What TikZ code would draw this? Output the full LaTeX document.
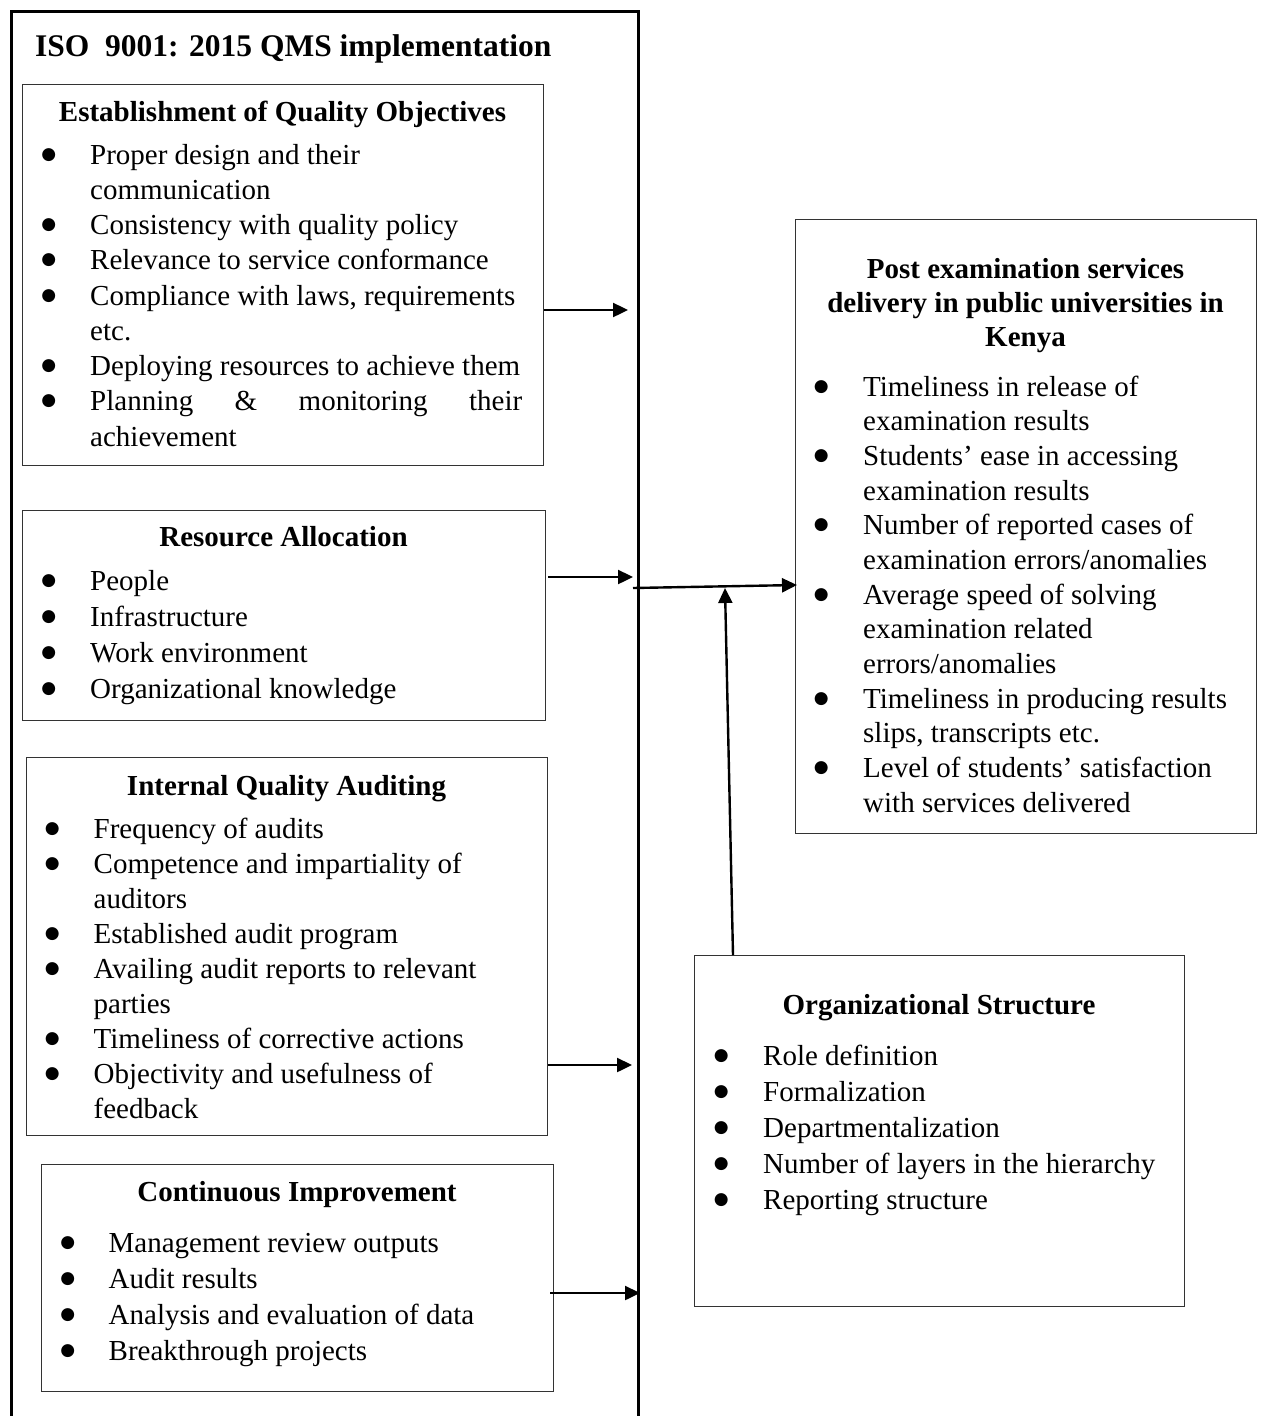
\documentclass[tikz,border=0pt]{standalone}
\usepackage{fontspec}
\setmainfont{Liberation Serif}
\newfontfamily\bulfont{DejaVu Sans}
\usetikzlibrary{arrows.meta}
\newcommand{\bul}{\makebox[0pt][c]{\raisebox{5pt}{\fontsize{17}{17}\bulfont ●}}}
\tikzset{
 box/.style={draw=black!80, line width=1.3pt, inner sep=0pt, anchor=north west},
 ttl/.style={font=\fontsize{29}{34}\selectfont\bfseries, anchor=base, inner sep=0pt},
 lst/.style={anchor=base west, inner sep=0pt, font=\fontsize{29}{#1}\selectfont},
 arr/.style={line width=2.4pt, -{Triangle[length=15pt,width=14pt]}},
}
\begin{document}
\begin{tikzpicture}[x=1pt,y=-1pt]
\clip (0,0) rectangle (1263,1416);
\useasboundingbox (0,0) rectangle (1263,1416);
% outer frame
\node[draw=black, line width=2.5pt, minimum width=627pt, minimum height=1450pt, anchor=north west, inner sep=0pt] (outer) at (10,10) {};
\node[anchor=base west, inner sep=0pt, font=\fontsize{31.5}{36}\selectfont\bfseries] (title) at (35,56) {ISO\ \ 9001: 2015 QMS implementation};

% box 1
\node[box, minimum width=521pt, minimum height=381pt] (b1) at (22,84) {};
\node[ttl] (t1) at (282.5,121) {Establishment of Quality Objectives};
\node[lst=35.25] (l1) at (48.5,164) {\begin{tabular}[t]{@{}p{41.5pt}@{}l@{}}
\bul & Proper design and their\\
 & communication\\
\bul & Consistency with quality policy\\
\bul & Relevance to service conformance\\
\bul & Compliance with laws, requirements\\
 & etc.\\
\bul & Deploying resources to achieve them\\
\bul & \makebox[432pt][s]{Planning \& monitoring their}\\
 & achievement
\end{tabular}};

% box 2
\node[box, minimum width=523pt, minimum height=210pt] (b2) at (22,510) {};
\node[ttl] (t2) at (283.5,546) {Resource Allocation};
\node[lst=36] (l2) at (48.5,590) {\begin{tabular}[t]{@{}p{41.5pt}@{}l@{}}
\bul & People\\
\bul & Infrastructure\\
\bul & Work environment\\
\bul & Organizational knowledge
\end{tabular}};

% box 3
\node[box, minimum width=521pt, minimum height=378pt] (b3) at (26,757) {};
\node[ttl] (t3) at (286.5,795) {Internal Quality Auditing};
\node[lst=35] (l3) at (52,838) {\begin{tabular}[t]{@{}p{41.5pt}@{}l@{}}
\bul & Frequency of audits\\
\bul & Competence and impartiality of\\
 & auditors\\
\bul & Established audit program\\
\bul & Availing audit reports to relevant\\
 & parties\\
\bul & Timeliness of corrective actions\\
\bul & Objectivity and usefulness of\\
 & feedback
\end{tabular}};

% box 4
\node[box, minimum width=512pt, minimum height=227pt] (b4) at (41,1164) {};
\node[ttl] (t4) at (297,1201) {Continuous Improvement};
\node[lst=36.3] (l4) at (67.5,1252) {\begin{tabular}[t]{@{}p{41pt}@{}l@{}}
\bul & Management review outputs\\
\bul & Audit results\\
\bul & Analysis and evaluation of data\\
\bul & Breakthrough projects
\end{tabular}};

% right box
\node[box, minimum width=461pt, minimum height=614pt] (rb) at (795,219) {};
\node[ttl] (tr) at (1025.5,278) {\begin{tabular}[t]{@{}c@{}}
Post examination services\\
delivery in public universities in\\
Kenya
\end{tabular}};
\node[lst=34.67] (lr) at (821,396) {\begin{tabular}[t]{@{}p{42pt}@{}l@{}}
\bul & Timeliness in release of\\
 & examination results\\
\bul & Students’ ease in accessing\\
 & examination results\\
\bul & Number of reported cases of\\
 & examination errors/anomalies\\
\bul & Average speed of solving\\
 & examination related\\
 & errors/anomalies\\
\bul & Timeliness in producing results\\
 & slips, transcripts etc.\\
\bul & Level of students’ satisfaction\\
 & with services delivered
\end{tabular}};

% org structure box
\node[box, minimum width=490pt, minimum height=351pt] (os) at (694,955) {};
\node[ttl] (to) at (939,1014) {Organizational Structure};
\node[lst=36] (lo) at (721,1065) {\begin{tabular}[t]{@{}p{42pt}@{}l@{}}
\bul & Role definition\\
\bul & Formalization\\
\bul & Departmentalization\\
\bul & Number of layers in the hierarchy\\
\bul & Reporting structure
\end{tabular}};

% connectors
\coordinate (a1) at (628,310);
\coordinate (a2) at (633,577);
\coordinate (a3) at (632,1065);
\coordinate (a4) at (640,1293);
\coordinate (a4s) at (550,1293);
\coordinate (jn) at (633,588);
\coordinate (jin) at (797,585);
\coordinate (vbot) at (733,955);
\coordinate (vtop) at (725,588);
\draw[arr] (b1.east |- a1) -- (a1);
\draw[arr] ([xshift=2pt]b2.east |- a2) -- (a2);
\draw[arr] (b3.east |- a3) -- (a3);
\draw[arr] (a4s) -- (a4);
\draw[arr] (jn) -- (jin);
\draw[arr] (vbot) -- (vtop);
\end{tikzpicture}
\end{document}
